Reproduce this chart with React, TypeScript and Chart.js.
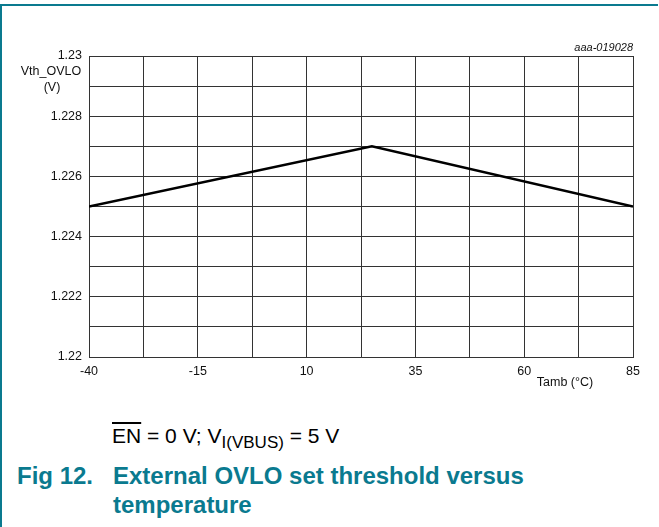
import React, { useEffect, useRef } from "react";
import { Chart, registerables } from "chart.js";

Chart.register(...registerables);

const xValues = [-40, 25, 85];
const yValues = [1.225, 1.227, 1.225];
const xGridValues = [-40, -27.5, -15, -2.5, 10, 22.5, 35, 47.5, 60, 72.5, 85];
const xTickLabels = ["-40", "", "-15", "", "10", "", "35", "", "60", "", "85"];
const yGridValues = [1.22, 1.221, 1.222, 1.223, 1.224, 1.225, 1.226, 1.227, 1.228, 1.229, 1.23];
const yTickLabels = ["1.22", "", "1.222", "", "1.224", "", "1.226", "", "1.228", "", "1.23"];

const FONT = "'Liberation Sans', Arial, Helvetica, sans-serif";
const TEAL = "#0a7a8f";

const textPlugin = {
  id: "extraText",
  afterDraw(chart: any) {
    const { ctx, chartArea } = chart;
    ctx.save();
    ctx.fillStyle = "#111";
    ctx.textBaseline = "middle";
    ctx.font = `12.5px ${FONT}`;
    ctx.textAlign = "center";
    ctx.fillText("Vth_OVLO", chartArea.left - 38, 72);
    ctx.fillText("(V)", chartArea.left - 37, 88);
    ctx.fillText("Tamb (°C)", chartArea.right - 68, chartArea.bottom + 26);
    ctx.font = `italic 11px ${FONT}`;
    ctx.textAlign = "right";
    ctx.fillText("aaa-019028", chartArea.right, chartArea.top - 8);
    ctx.restore();
  },
};

export default function App() {
  const ref = useRef<HTMLCanvasElement>(null);
  useEffect(() => {
    if (!ref.current) return;
    const chart = new Chart(ref.current, {
      type: "line",
      data: {
        datasets: [
          {
            data: xValues.map((x, i) => ({ x, y: yValues[i] })),
            borderColor: "#000",
            borderWidth: 2.5,
            pointRadius: 0,
            tension: 0,
            fill: false,
          },
        ],
      },
      options: {
        animation: false,
        responsive: false,
        devicePixelRatio: 1,
        layout: { padding: { left: 0, top: 56, right: 26, bottom: 19 } },
        plugins: { legend: { display: false }, tooltip: { enabled: false } },
        scales: {
          x: {
            type: "linear",
            min: -40,
            max: 85,
            afterBuildTicks: (scale: any) => {
              scale.ticks = xGridValues.map((v) => ({ value: v }));
            },
            afterFit: (scale: any) => {
              scale.height = 24;
            },
            ticks: {
              autoSkip: false,
              maxRotation: 0,
              padding: 7,
              color: "#111",
              font: { family: FONT, size: 12.5 },
              callback: (_v: any, i: number) => xTickLabels[i],
            },
            grid: { color: "#333", lineWidth: 1, drawTicks: false },
            border: { color: "#333", width: 1 },
          },
          y: {
            type: "linear",
            min: 1.22,
            max: 1.23,
            afterBuildTicks: (scale: any) => {
              scale.ticks = yGridValues.map((v) => ({ value: v }));
            },
            afterFit: (scale: any) => {
              scale.width = 89;
            },
            ticks: {
              autoSkip: false,
              padding: 7,
              color: "#111",
              font: { family: FONT, size: 12.5 },
              callback: (_v: any, i: number) => yTickLabels[i],
            },
            grid: { color: "#333", lineWidth: 1, drawTicks: false },
            border: { color: "#333", width: 1 },
          },
        },
      },
      plugins: [textPlugin],
    } as any);
    return () => chart.destroy();
  }, []);

  return (
    <div style={{ position: "absolute", left: 0, top: 0, width: 659, height: 527, background: "#fff", overflow: "hidden", fontFamily: FONT }}>
      <canvas ref={ref} width={659} height={400} style={{ position: "absolute", left: 0, top: 0, width: 659, height: 400 }} />
      <div style={{ position: "absolute", left: 0, top: 4, width: 658, height: 2, background: TEAL }} />
      <div style={{ position: "absolute", left: 0, top: 4, width: 2, height: 523, background: TEAL }} />
      <div style={{ position: "absolute", left: 112, top: 424, fontSize: 21, lineHeight: "24px", color: "#000", whiteSpace: "nowrap" }}>
        <span style={{ textDecoration: "overline" }}>EN</span> = 0 V; V
        <span style={{ fontSize: 17, position: "relative", top: 5 }}>I(VBUS)</span> = 5 V
      </div>
      <div style={{ position: "absolute", left: 17, top: 461, fontSize: 24, lineHeight: "29px", fontWeight: "bold", color: TEAL, whiteSpace: "nowrap" }}>
        Fig 12.
      </div>
      <div style={{ position: "absolute", left: 113, top: 461, fontSize: 24, lineHeight: "29px", fontWeight: "bold", color: TEAL, whiteSpace: "nowrap" }}>
        External OVLO set threshold versus
        <br />
        temperature
      </div>
    </div>
  );
}
